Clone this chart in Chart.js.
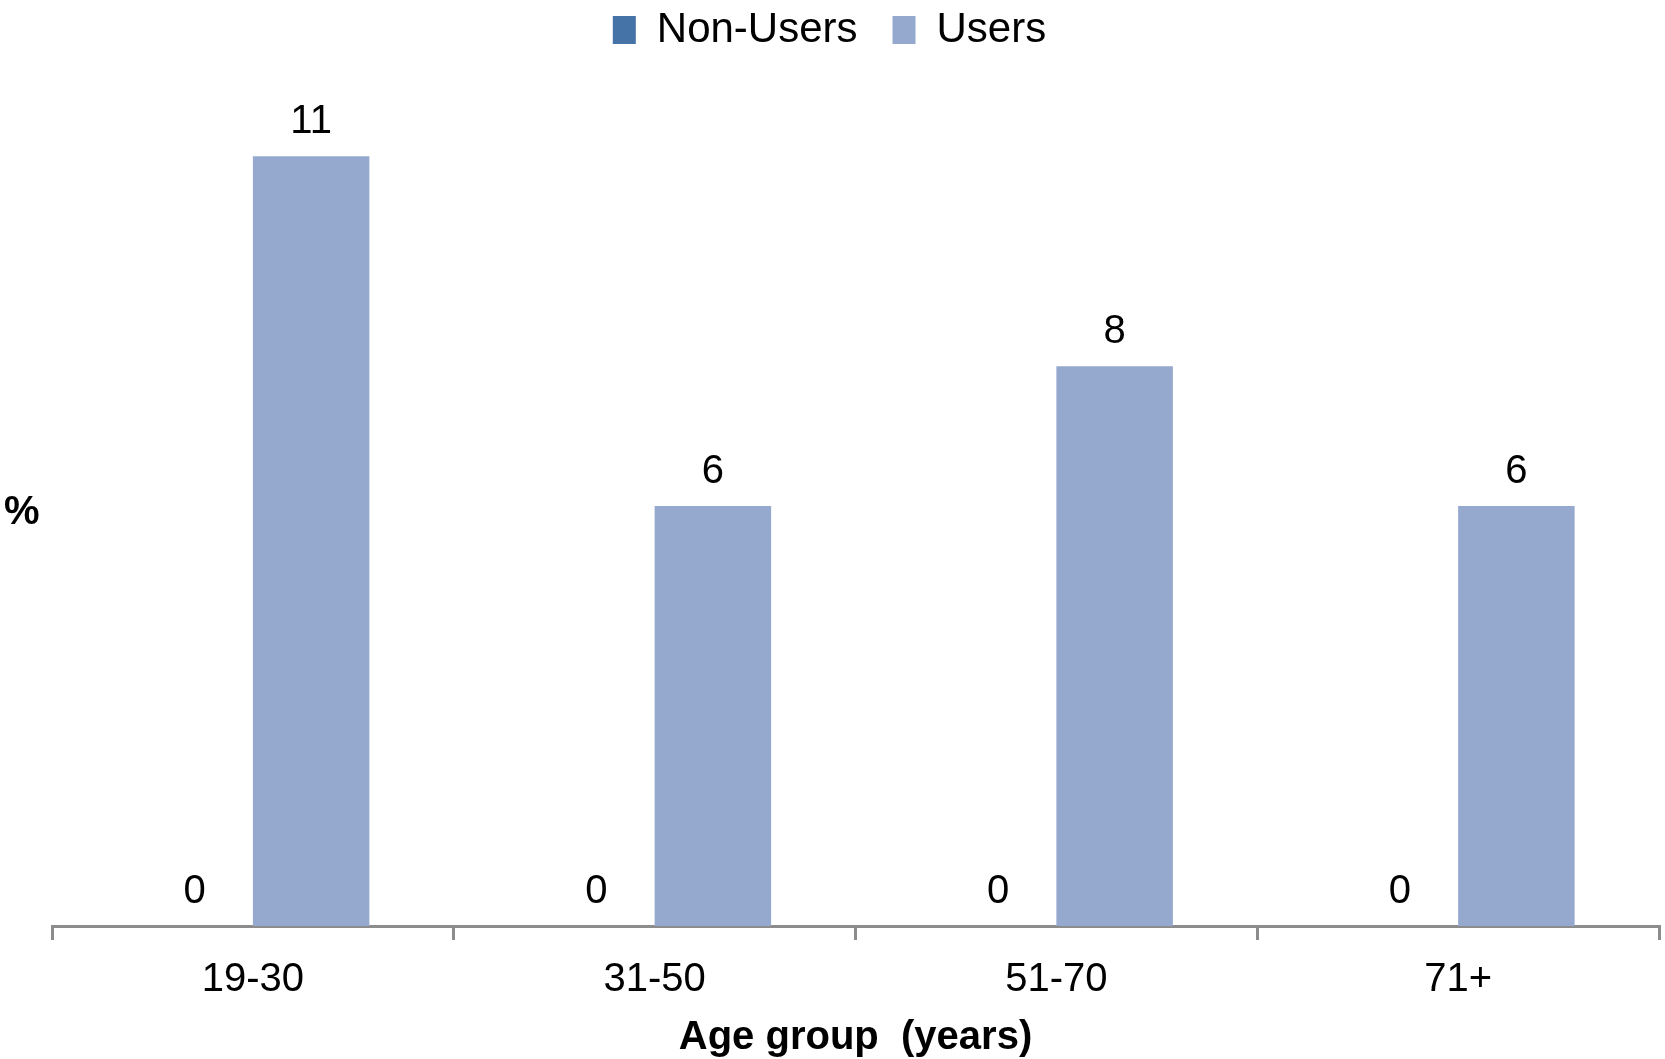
<!DOCTYPE html>
<html>
<head>
<meta charset="utf-8">
<script src="https://cdn.jsdelivr.net/npm/chart.js@4"></script>
<style>
  html, body { margin: 0; padding: 0; background: #ffffff; }
  #wrap { width: 1665px; height: 1059px; }
</style>
</head>
<body>
<div id="wrap"><canvas id="ageChart" width="1665" height="1059"></canvas></div>
<script>

// =====================================
// DATA
// =====================================

const ageGroups = ["19-30", "31-50", "51-70", "71+"];

const nonUsers = [0, 0, 0, 0];

const users = [11, 6, 8, 6];

const FONT = "'Liberation Sans', Arial, sans-serif";


// =====================================
// VALUE LABELS + "%" LABEL
// =====================================

const valueLabels = {
    id: "valueLabels",
    afterDatasetsDraw(chart) {
        const ctx = chart.ctx;
        ctx.save();
        ctx.fillStyle = "#000000";
        ctx.font = "40px " + FONT;
        ctx.textAlign = "center";
        ctx.textBaseline = "alphabetic";
        chart.data.datasets.forEach((ds, i) => {
            const meta = chart.getDatasetMeta(i);
            meta.data.forEach((bar, j) => {
                ctx.fillText(String(ds.data[j]), bar.x, bar.y - 23);
            });
        });
        // y axis label, written horizontally
        ctx.font = "bold 40px " + FONT;
        ctx.textAlign = "left";
        ctx.textBaseline = "middle";
        ctx.fillText("%", 4, 513);
        ctx.restore();
    }
};


// =====================================
// CHART
// =====================================

const ageChart = new Chart(
    document.getElementById("ageChart"),
    {
        type: "bar",
        data: {
            labels: ageGroups,
            datasets: [
                {
                    label: "Non-Users",
                    data: nonUsers,
                    backgroundColor: "#4572A7"
                },
                {
                    label: "Users",
                    data: users,
                    backgroundColor: "#95A9CF"
                }
            ]
        },
        options: {
            responsive: false,
            animation: false,
            categoryPercentage: 0.58,
            barPercentage: 1.0,
            layout: {
                padding: { left: 0, right: 6, top: -26, bottom: -3 }
            },
            plugins: {
                legend: {
                    position: "top",
                    labels: {
                        color: "#000000",
                        font: { family: FONT, size: 42 },
                        boxWidth: 23,
                        boxHeight: 28,
                        padding: 35
                    }
                },
                tooltip: { enabled: false }
            },
            scales: {
                x: {
                    border: { display: true, color: "#8c8c8c", width: 3 },
                    grid: {
                        display: true,
                        offset: true,
                        drawOnChartArea: false,
                        drawTicks: true,
                        tickLength: 14,
                        color: "#8c8c8c",
                        lineWidth: 3
                    },
                    ticks: {
                        color: "#000000",
                        font: { family: FONT, size: 40 },
                        padding: 16
                    },
                    title: {
                        display: true,
                        text: "Age group  (years)",
                        color: "#000000",
                        font: { family: FONT, size: 40, weight: "bold" },
                        padding: { top: -6, bottom: 0 }
                    }
                },
                y: {
                    display: true,
                    min: 0,
                    max: 12.36,
                    grid: { display: false },
                    border: { display: false },
                    ticks: { display: false },
                    afterFit(scale) {
                        scale.width = 52;
                    }
                }
            }
        },
        plugins: [valueLabels]
    }
);
</script>
</body>
</html>
